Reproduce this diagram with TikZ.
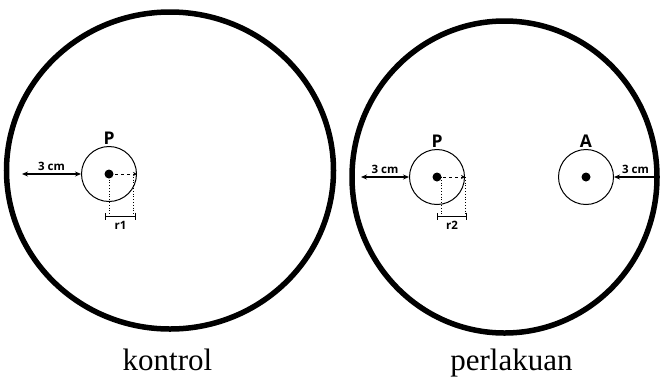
\documentclass[tikz,border=0pt]{standalone}
\usepackage{fontspec}
\setmainfont{Liberation Serif}
\setsansfont{Open Sans}
\usetikzlibrary{shapes.geometric, arrows.meta, positioning}

\begin{document}
\begin{tikzpicture}[
        x=1pt, y=-1pt,
        plate/.style={ellipse, draw, line width=5.5pt, inner sep=0pt},
        disc/.style={circle, draw, line width=1pt, minimum size=55pt, inner sep=0pt},
        dot/.style={circle, fill, minimum size=9pt, inner sep=0pt},
        tag/.style={font=\sffamily\bfseries\fontsize{17.5}{17.5}\selectfont, inner sep=1.5pt},
        dimlbl/.style={font=\sffamily\bfseries\fontsize{11.5}{12}\selectfont, inner sep=1.5pt},
        dimarrow/.style={line width=1.2pt},
        radline/.style={dashed, line width=1pt, -{Stealth[length=4pt, width=4pt]}},
        guide/.style={dotted, line width=0.8pt},
        span/.style={{|[width=7pt]}-{|[width=7pt]}, line width=1pt},
        caption/.style={font=\fontsize{31}{31}\selectfont, anchor=base}
      ]
        \useasboundingbox (0,0) rectangle (660,376);

        % kontrol
        \node[plate, minimum width=327pt, minimum height=317pt] (kontrol) at (170,170.5) {};
        \node[disc] (kdisc) at (109,174) {};
        \node[dot] (kdot) at (kdisc.center) {};
        \node[tag, above=0pt of kdisc] (kP) {P};
        \coordinate (kwall) at (22,174);
        \draw[dimarrow, {Stealth[length=6pt, width=5pt]}-{Stealth[length=6pt, width=5pt]}] (kwall) -- node[above=1pt, dimlbl] (k3cm) {3 cm} (kdisc.west);
        \draw[radline] (kdot.center) -- (kdisc.east);
        \coordinate (ks1) at (105,216);
        \coordinate (ks2) at (136,216);
        \draw[guide] (kdot.center) -- (kdot.center |- ks1);
        \draw[guide] ([xshift=-4pt]kdisc.east) -- ([xshift=-4pt]kdisc.east |- ks1);
        \draw[span] (ks1) -- node[below=3pt, dimlbl] (kr1) {r1} (ks2);

        % perlakuan
        \node[plate, minimum width=305pt, minimum height=312pt] (perlakuan) at (504.5,177) {};
        \node[disc] (pdisc) at (437,177) {};
        \node[dot] (pdot) at (pdisc.center) {};
        \node[tag, above=0pt of pdisc] (pP) {P};
        \coordinate (pwall) at (361,177);
        \draw[dimarrow, {Stealth[length=6pt, width=5pt]}-{Stealth[length=6pt, width=5pt]}] (pwall) -- node[above=1pt, dimlbl] (p3cm) {3 cm} (pdisc.west);
        \draw[radline] (pdot.center) -- (pdisc.east);
        \coordinate (ps1) at (437,216);
        \coordinate (ps2) at (467,216);
        \draw[guide] ([xshift=4pt]pdot.center) -- ([xshift=4pt]pdot.center |- ps1);
        \draw[guide] (pdisc.east) -- (pdisc.east |- ps1);
        \draw[span] (ps1) -- node[below=3pt, dimlbl] (pr2) {r2} (ps2);

        \node[disc] (adisc) at (586,177) {};
        \node[dot] (adot) at (adisc.center) {};
        \node[tag, above=0pt of adisc] (aA) {A};
        \coordinate (awall) at (657,177);
        \draw[dimarrow, -{Stealth[length=6pt, width=5pt]}] (awall) -- node[above=1pt, dimlbl] (a3cm) {3 cm} (adisc.east);

        % captions
        \node[caption] (kcap) at (167.5,370) {kontrol};
        \node[caption] (pcap) at (511.5,370) {perlakuan};
      \end{tikzpicture}
\end{document}
